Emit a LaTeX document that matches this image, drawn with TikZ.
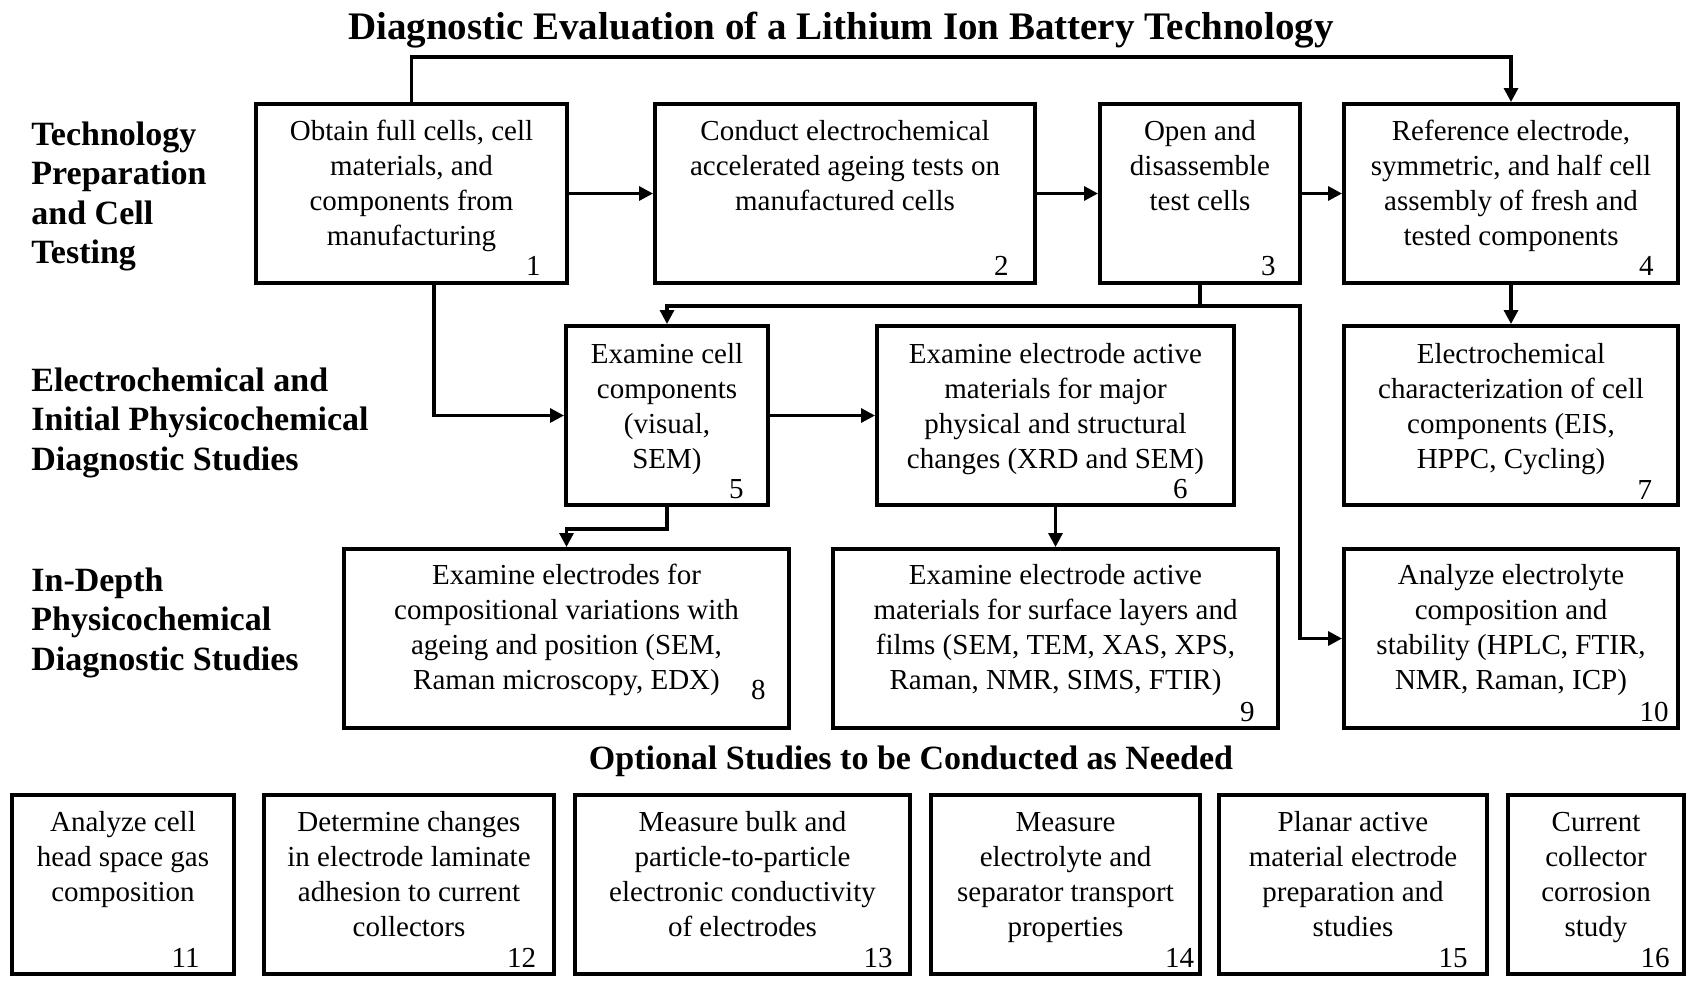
\documentclass[tikz,border=0pt]{standalone}
\usepackage{fontspec}
\setmainfont{Liberation Serif}
\usetikzlibrary{calc,arrows.meta}

\begin{document}
\begin{tikzpicture}[x=0.5pt,y=-0.5pt,
		box/.style={draw, line width=2pt, inner sep=0pt, minimum height=89.5pt},
		txt/.style={align=center, inner sep=0pt, anchor=north, font=\fontsize{14.5}{17.5}\selectfont},
		num/.style={anchor=base east, inner sep=0pt, font=\fontsize{14.5}{17.5}\selectfont},
		lbl/.style={align=left, inner sep=0pt, anchor=north west, font=\fontsize{17}{19.7}\selectfont\bfseries},
		head/.style={anchor=base, inner sep=0pt, font=\fontsize{17}{19.7}\selectfont\bfseries},
		conn/.style={line width=1.6pt, -{Triangle[length=7pt,width=7pt]}}]
		\useasboundingbox (0,0) rectangle (1690,981);
		%%%%% START %%%%%
		\node[head, font=\fontsize{19.5}{22}\selectfont\bfseries] (title) at (841,39) {Diagnostic Evaluation of a Lithium Ion Battery Technology};
		
		\node[lbl] (lab1) at (31,117.4) {\strut Technology\\Preparation\\and Cell\\Testing};
		\node[lbl] (lab2) at (31,363.4) {\strut Electrochemical and\\Initial Physicochemical\\Diagnostic Studies};
		\node[lbl] (lab3) at (31,563.4) {\strut In-Depth\\Physicochemical\\Diagnostic Studies};
		
		%% row 1
		\node[box, minimum width=155.5pt] (b1) at (411.5,193.5) {};
		\node[txt] (t1) at ($(b1.north)+(0,13.5)$) {\strut Obtain full cells, cell\\materials, and\\components from\\manufacturing};
		\node[num] (n1) at ($(b1.south east)+(-28,-10)$) {1};
		
		\node[box, minimum width=190pt] (b2) at (845,193.5) {};
		\node[txt] (t2) at ($(b2.north)+(0,13.5)$) {\strut Conduct electrochemical\\accelerated ageing tests on\\manufactured cells};
		\node[num] (n2) at ($(b2.south east)+(-28,-10)$) {2};
		
		\node[box, minimum width=100pt] (b3) at (1200,193.5) {};
		\node[txt] (t3) at ($(b3.north)+(0,13.5)$) {\strut Open and\\disassemble\\test cells};
		\node[num] (n3) at ($(b3.south east)+(-26,-10)$) {3};
		
		\node[box, minimum width=167pt] (b4) at (1511,193.5) {};
		\node[txt] (t4) at ($(b4.north)+(0,13.5)$) {\strut Reference electrode,\\symmetric, and half cell\\assembly of fresh and\\tested components};
		\node[num] (n4) at ($(b4.south east)+(-26,-10)$) {4};
		
		%% row 2
		\node[box, minimum width=101pt] (b5) at (667,415.5) {};
		\node[txt] (t5) at ($(b5.north)+(0,14.5)$) {\strut Examine cell\\components\\(visual,\\SEM)};
		\node[num] (n5) at ($(b5.south east)+(-26,-8.5)$) {5};
		
		\node[box, minimum width=178.5pt] (b6) at (1055.5,415.5) {};
		\node[txt] (t6) at ($(b6.north)+(0,14.5)$) {\strut Examine electrode active\\materials for major\\physical and structural\\changes (XRD and SEM)};
		\node[num] (n6) at ($(b6.south east)+(-48,-8.5)$) {6};
		
		\node[box, minimum width=167pt] (b7) at (1511,415.5) {};
		\node[txt] (t7) at ($(b7.north)+(0,14.5)$) {\strut Electrochemical\\characterization of cell\\components (EIS,\\HPPC, Cycling)};
		\node[num] (n7) at ($(b7.south east)+(-27.5,-8)$) {7};
		
		%% row 3
		\node[box, minimum width=222.5pt] (b8) at (566.5,638.5) {};
		\node[txt] (t8) at ($(b8.north)+(0,13)$) {\strut Examine electrodes for\\compositional variations with\\ageing and position (SEM,\\Raman microscopy, EDX)};
		\node[num] (n8) at ($(b8.south east)+(-25,-31)$) {8};
		
		\node[box, minimum width=222.5pt] (b9) at (1055.5,638.5) {};
		\node[txt] (t9) at ($(b9.north)+(0,13)$) {\strut Examine electrode active\\materials for surface layers and\\films (SEM, TEM, XAS, XPS,\\Raman, NMR, SIMS, FTIR)};
		\node[num] (n9) at ($(b9.south east)+(-25,-9)$) {9};
		
		\node[box, minimum width=167pt] (b10) at (1511,638.5) {};
		\node[txt] (t10) at ($(b10.north)+(0,13)$) {\strut Analyze electrolyte\\composition and\\stability (HPLC, FTIR,\\NMR, Raman, ICP)};
		\node[num] (n10) at ($(b10.south east)+(-11,-9)$) {10};
		
		%% optional studies
		\node[head] (opt) at (911,769.5) {Optional Studies to be Conducted as Needed};
		
		\node[box, minimum width=111pt] (b11) at (123,884.5) {};
		\node[txt] (t11) at ($(b11.north)+(0,13.5)$) {\strut Analyze cell\\head space gas\\composition};
		\node[num] (n11) at ($(b11.south east)+(-36,-9)$) {11};
		
		\node[box, minimum width=145pt] (b12) at (409,884.5) {};
		\node[txt] (t12) at ($(b12.north)+(0,13.5)$) {\strut Determine changes\\in electrode laminate\\adhesion to current\\collectors};
		\node[num] (n12) at ($(b12.south east)+(-19.5,-9)$) {12};
		
		\node[box, minimum width=167.5pt] (b13) at (742.5,884.5) {};
		\node[txt] (t13) at ($(b13.north)+(0,13.5)$) {\strut Measure bulk and\\particle-to-particle\\electronic conductivity\\of electrodes};
		\node[num] (n13) at ($(b13.south east)+(-19,-9)$) {13};
		
		\node[box, minimum width=134.5pt] (b14) at (1065.5,884.5) {};
		\node[txt] (t14) at ($(b14.north)+(0,13.5)$) {\strut Measure\\electrolyte and\\separator transport\\properties};
		\node[num] (n14) at ($(b14.south east)+(-7.5,-9)$) {14};
		
		\node[box, minimum width=134pt] (b15) at (1353,884.5) {};
		\node[txt] (t15) at ($(b15.north)+(0,13.5)$) {\strut Planar active\\material electrode\\preparation and\\studies};
		\node[num] (n15) at ($(b15.south east)+(-21,-9)$) {15};
		
		\node[box, minimum width=88pt] (b16) at (1596,884.5) {};
		\node[txt] (t16) at ($(b16.north)+(0,13.5)$) {\strut Current\\collector\\corrosion\\study};
		\node[num] (n16) at ($(b16.south east)+(-16,-9)$) {16};
		
		%% connectors
		\draw[conn] (b1) -- (b2);
		\draw[conn] (b2) -- (b3);
		\draw[conn] (b3) -- (b4);
		\draw[conn] (b1.north) -- ++(0,-45) -| (b4.north);
		\draw[conn] ($(b1.south)+(22.5,0)$) |- (b5.west);
		\coordinate (j3) at ($(b3.south)+(0,21)$);
		\draw[conn] (b3.south) -- (j3) -| (b5.north);
		\draw[conn] (j3) -- ++(100,0) |- (b10.west);
		\draw[conn] (b4) -- (b7);
		\draw[conn] (b5) -- (b6);
		\draw[conn] (b5.south) -- ++(0,22) -| (b8.north);
		\draw[conn] (b6) -- (b9);
		%%%%% END %%%%%
\end{tikzpicture}
\end{document}
